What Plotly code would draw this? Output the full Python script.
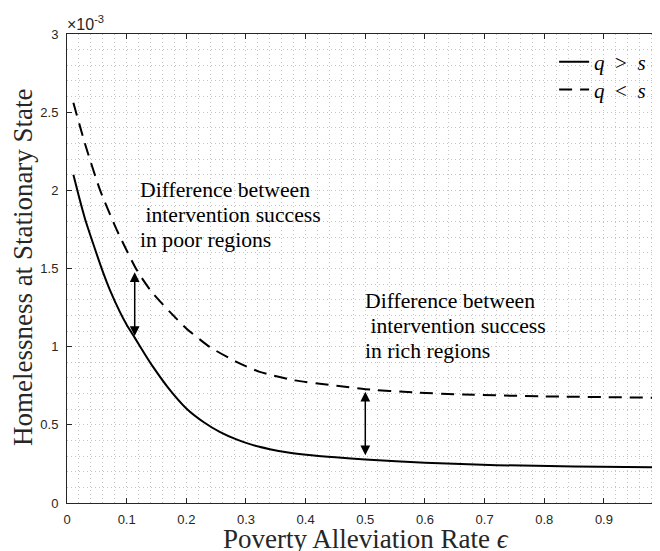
import plotly.graph_objects as go

# Values in units of 1e-3 (axis shows x10^-3)
x_solid = [0.0107, 0.02, 0.03, 0.0442, 0.06, 0.0722, 0.0884, 0.1, 0.1135, 0.13, 0.144, 0.17, 0.2, 0.23,
           0.256, 0.285, 0.312, 0.34, 0.368, 0.41, 0.45, 0.5, 0.6, 0.72, 0.85, 0.994]
y_solid = [2.10, 1.96, 1.82, 1.655, 1.48, 1.36, 1.224, 1.14, 1.058, 0.955, 0.872, 0.735, 0.605, 0.515,
           0.455, 0.405, 0.37, 0.344, 0.324, 0.305, 0.292, 0.279, 0.258, 0.242, 0.234, 0.228]

x_dash = [0.0107, 0.03, 0.0553, 0.0834, 0.117, 0.14, 0.172, 0.2, 0.239, 0.284, 0.323, 0.379, 0.452, 0.5,
          0.58, 0.664, 0.8, 0.994]
y_dash = [2.56, 2.30, 2.003, 1.747, 1.49, 1.36, 1.224, 1.117, 0.999, 0.903, 0.839, 0.786, 0.75, 0.728,
          0.708, 0.694, 0.682, 0.673]

series_names = ["<i>q</i>\u2002>\u2002<i>s</i>", "<i>q</i>\u2002<\u2002<i>s</i>"]

x_ticks = [0, 0.1, 0.2, 0.3, 0.4, 0.5, 0.6, 0.7, 0.8, 0.9]
x_ticktext = ["0", "0.1", "0.2", "0.3", "0.4", "0.5", "0.6", "0.7", "0.8", "0.9"]
y_ticks = [0, 0.5, 1, 1.5, 2, 2.5, 3]
y_ticktext = ["0", "0.5", "1", "1.5", "2", "2.5", "3"]

arrow_x = [0.1135, 0.5]
arrow_lo = [1.068, 0.306]
arrow_hi = [1.486, 0.722]

note_texts = [
    "Difference between<br>\u00a0intervention success<br>in poor regions",
    "Difference between<br>\u00a0intervention success<br>in rich regions",
]
note_x = [0.1236, 0.5009]
note_y = [1.843, 1.134]   # middle line
note_step = 0.16

x_title = "Poverty Alleviation Rate <i>\u03f5</i>"
y_title = "Homelessness at Stationary State"

AX = "#262626"
GRID = "#c4c4c4"
SERIF = "Liberation Serif, DejaVu Serif, serif"
SANS = "Liberation Sans, Arial, Helvetica, sans-serif"

fig = go.Figure()
fig.add_trace(go.Scatter(x=x_solid, y=y_solid, mode="lines", name=series_names[0], legend="legend",
                         line=dict(color="black", width=2, shape="spline", smoothing=0.6)))
fig.add_trace(go.Scatter(x=x_dash, y=y_dash, mode="lines", name=series_names[1], legend="legend2",
                         line=dict(color="black", width=2, shape="spline", smoothing=0.6, dash="13px,8px")))

for xa, lo, hi in zip(arrow_x, arrow_lo, arrow_hi):
    fig.add_annotation(x=xa, y=lo, ax=xa, ay=hi, xref="x", yref="y", axref="x", ayref="y",
                       text="", showarrow=True, arrowside="end+start", arrowhead=2, startarrowhead=2,
                       arrowsize=1.3, startarrowsize=1.3, arrowwidth=1.5, arrowcolor="black",
                       standoff=0, startstandoff=0)

for t, xx, yy in zip(note_texts, note_x, note_y):
    lines = t.split("<br>")
    for i, ln in enumerate(lines):
        fig.add_annotation(x=xx, y=yy + (1 - i) * note_step, xref="x", yref="y", text=ln,
                           showarrow=False, xanchor="left", yanchor="middle", align="left",
                           xshift=-3, font=dict(family=SERIF, size=21.7, color="black"))

fig.add_annotation(x=0, y=1, xref="paper", yref="paper", xanchor="left", yanchor="bottom",
                   text="\u00d710<sup>-3</sup>", showarrow=False, xshift=-2, yshift=-1,
                   font=dict(family=SANS, size=16, color=AX))

# axis titles
fig.add_annotation(x=0.504, y=-0.077, xref="paper", yref="paper", xanchor="center", yanchor="middle",
                   text=x_title, showarrow=False, font=dict(family=SERIF, size=27, color=AX))
fig.add_annotation(x=-0.0742, y=0.503, xref="paper", yref="paper", xanchor="center", yanchor="middle",
                   text=y_title, showarrow=False, textangle=-90, font=dict(family=SERIF, size=27, color=AX))

fig.update_xaxes(range=[0, 0.994], tickvals=x_ticks, ticktext=x_ticktext,
                 ticks="inside", ticklen=5, tickcolor=AX, tickwidth=1,
                 showline=True, linecolor=AX, linewidth=1, mirror="ticks",
                 showgrid=True, gridcolor=GRID, gridwidth=1, griddash="1px,3px",
                 minor=dict(dtick=0.02, showgrid=True, gridcolor=GRID, gridwidth=1, griddash="1px,3px"),
                 zeroline=False, ticklabelstandoff=4, automargin=False,
                 tickfont=dict(family=SANS, size=13, color=AX))
fig.update_yaxes(range=[0, 3], tickvals=y_ticks, ticktext=y_ticktext,
                 ticks="inside", ticklen=5, tickcolor=AX, tickwidth=1,
                 showline=True, linecolor=AX, linewidth=1, mirror=False,
                 showgrid=True, gridcolor=GRID, gridwidth=1, griddash="1px,3px",
                 minor=dict(dtick=0.1, showgrid=True, gridcolor=GRID, gridwidth=1, griddash="1px,3px"),
                 zeroline=False, ticklabelstandoff=5, automargin=False,
                 tickfont=dict(family=SANS, size=13, color=AX))

legend_style = dict(xanchor="right", yanchor="middle", bgcolor="rgba(0,0,0,0)", borderwidth=0,
                    font=dict(family=SERIF, size=21, color="black"), tracegroupgap=0)

# page body has an 8px default margin: figure is offset so the plot area lands at 67..660 x 34..503
fig.update_layout(width=652, height=543, margin=dict(l=59, r=0, t=26, b=48, autoexpand=False),
                  paper_bgcolor="white", plot_bgcolor="white",
                  showlegend=True,
                  legend=dict(x=0.985, y=0.940, **legend_style),
                  legend2=dict(x=0.985, y=0.881, **legend_style))

fig.write_html("out.html")
